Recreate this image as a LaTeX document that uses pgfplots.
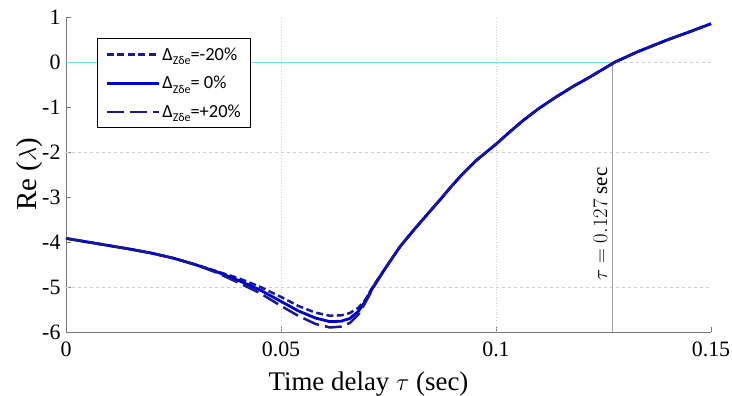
\documentclass[border=0pt]{standalone}
\usepackage{fontspec}
\setmainfont{Liberation Serif}
\newfontfamily\legfont{Carlito}
\usepackage{pgfplots}
\pgfplotsset{compat=1.18}
\definecolor{curveblue}{RGB}{0,0,205}
\definecolor{navy}{RGB}{25,25,150}
\definecolor{gridgray}{RGB}{205,205,205}
\definecolor{axgray}{RGB}{120,120,120}
\definecolor{zerocyan}{RGB}{60,200,245}
\newcommand\sub[1]{\raisebox{-0.5ex}{\fontsize{12}{12}\selectfont #1}}
\begin{document}
\begin{tikzpicture}[x=1bp,y=1bp]
\begin{axis}[
  name=main,
  scale only axis,
  width=645bp, height=315bp,
  xmin=0, xmax=0.15, ymin=-6, ymax=1,
  xtick={0,0.05,0.1,0.15},
  xticklabels={0,0.05,0.1,0.15},
  ytick={-6,-5,-4,-3,-2,-1,0,1},
  axis x line*=bottom, axis y line*=left,
  axis line style={axgray, line width=0.8bp, -},
  tick style={axgray, line width=0.6bp},
  major tick length=5bp,
  tick align=inside,
  /pgf/number format/assume math mode=true,
  ticklabel style={font=\fontsize{22}{24}\selectfont},
  xticklabel style={yshift=-6bp},
  yticklabel style={xshift=-2bp},
  xlabel={Time delay $\tau$ (sec)},
  ylabel={Re ($\lambda$)},
  xlabel style={font=\fontsize{27}{29}\selectfont, yshift=-9bp, xshift=-20bp},
  ylabel style={font=\fontsize{29}{31}\selectfont, yshift=-7bp},
  clip=false,
  legend style={at={(0.048,0.933)}, anchor=north west, draw=black, line width=1.2bp,
    font=\legfont\fontsize{18.5}{22}\selectfont, row sep=10.5bp, inner xsep=8bp, inner ysep=7bp,
    cells={anchor=west}},
  legend image code/.code={\draw[#1] (0bp,0bp) -- (52bp,0bp);},
]
% decorative grid lines
\draw[gridgray, dashed, line width=0.6bp] (axis cs:0,-2) -- (axis cs:0.15,-2);
\draw[gridgray, dashed, line width=0.6bp] (axis cs:0,-5) -- (axis cs:0.15,-5);
\draw[gridgray, dotted, line width=0.8bp] (axis cs:0.05,-6) -- (axis cs:0.05,1);
\draw[gridgray, dotted, line width=0.8bp] (axis cs:0.1,-6) -- (axis cs:0.1,1);
\draw[gridgray, dashed, line width=0.6bp] (axis cs:0.127,0) -- (axis cs:0.15,0);
\draw[zerocyan!70, line width=0.8bp] (axis cs:0,0) -- (axis cs:0.127,0);
\draw[axgray!70, line width=0.8bp] (axis cs:0.127,0) -- (axis cs:0.127,-6);
\node[rotate=90, font=\fontsize{21}{23}\selectfont] at (axis cs:0.1243,-3.6) {$\tau=0.127$ sec};

\addplot[navy, line width=2.5bp, dash pattern=on 7bp off 3.5bp] coordinates {
(0,-3.92) (0.005,-4.00) (0.01,-4.08) (0.015,-4.16) (0.02,-4.25) (0.025,-4.36)
(0.03,-4.50) (0.035,-4.65) (0.04,-4.80) (0.045,-4.99) (0.05,-5.22) (0.054,-5.42)
(0.058,-5.57) (0.0614,-5.64) (0.064,-5.63) (0.066,-5.58) (0.068,-5.46) (0.0695,-5.30)
(0.0715,-4.97) (0.0745,-4.55) (0.0777,-4.10) (0.081,-3.72) (0.0839,-3.40) (0.087,-3.06)
(0.0893,-2.80) (0.092,-2.51) (0.0955,-2.18) (0.1002,-1.81) (0.103,-1.57) (0.1063,-1.30)
(0.11,-1.03) (0.1141,-0.77) (0.118,-0.54) (0.1219,-0.33) (0.1277,0.0) (0.133,0.23)
(0.1398,0.49) (0.145,0.67) (0.15,0.85)};
\addlegendentry{Δ\sub{Zδe}=-20\%}

\addplot[curveblue, line width=2.8bp] coordinates {
(0,-3.92) (0.005,-4.00) (0.01,-4.08) (0.015,-4.16) (0.02,-4.25) (0.025,-4.36)
(0.03,-4.50) (0.035,-4.66) (0.04,-4.85) (0.045,-5.06) (0.05,-5.32) (0.054,-5.53)
(0.058,-5.69) (0.0614,-5.77) (0.064,-5.76) (0.066,-5.70) (0.068,-5.54) (0.0695,-5.33)
(0.0715,-4.99) (0.0745,-4.55) (0.0777,-4.10) (0.081,-3.72) (0.0839,-3.40) (0.087,-3.06)
(0.0893,-2.80) (0.092,-2.51) (0.0955,-2.18) (0.1002,-1.81) (0.103,-1.57) (0.1063,-1.30)
(0.11,-1.03) (0.1141,-0.77) (0.118,-0.54) (0.1219,-0.33) (0.1277,0.0) (0.133,0.23)
(0.1398,0.49) (0.145,0.67) (0.15,0.85)};
\addlegendentry{Δ\sub{Zδe}= 0\%}

\addplot[navy, line width=2.5bp, dash pattern=on 17bp off 6bp] coordinates {
(0,-3.92) (0.005,-4.00) (0.01,-4.08) (0.015,-4.16) (0.02,-4.25) (0.025,-4.36)
(0.03,-4.50) (0.035,-4.68) (0.04,-4.90) (0.045,-5.13) (0.05,-5.42) (0.054,-5.64)
(0.058,-5.82) (0.0614,-5.90) (0.064,-5.88) (0.066,-5.80) (0.068,-5.61) (0.0695,-5.37)
(0.0715,-5.01) (0.0745,-4.55) (0.0777,-4.10) (0.081,-3.72) (0.0839,-3.40) (0.087,-3.06)
(0.0893,-2.80) (0.092,-2.51) (0.0955,-2.18) (0.1002,-1.81) (0.103,-1.57) (0.1063,-1.30)
(0.11,-1.03) (0.1141,-0.77) (0.118,-0.54) (0.1219,-0.33) (0.1277,0.0) (0.133,0.23)
(0.1398,0.49) (0.145,0.67) (0.15,0.85)};
\addlegendentry{Δ\sub{Zδe}=+20\%}
\end{axis}
\pgfresetboundingbox
\path[use as bounding box] ([shift={(-66bp,-64bp)}]main.south west) rectangle ([shift={(21bp,17bp)}]main.north east);
\end{tikzpicture}
\end{document}
